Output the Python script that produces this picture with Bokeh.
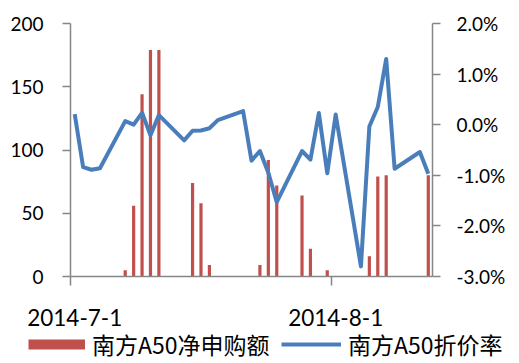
import pandas as pd
from bokeh.plotting import figure
from bokeh.layouts import column
from bokeh.models import (Range1d, LinearAxis, FixedTicker, PrintfTickFormatter,
                          Legend, LegendItem, ColumnDataSource)
from bokeh.embed import file_html
from bokeh.resources import INLINE

# ---- data ----
dates = ["2014-07-01", "2014-07-02", "2014-07-03", "2014-07-04",
         "2014-07-07", "2014-07-08", "2014-07-09", "2014-07-10", "2014-07-11",
         "2014-07-14", "2014-07-15", "2014-07-16", "2014-07-17", "2014-07-18",
         "2014-07-21", "2014-07-22", "2014-07-23", "2014-07-24", "2014-07-25",
         "2014-07-28", "2014-07-29", "2014-07-30", "2014-07-31", "2014-08-01",
         "2014-08-04", "2014-08-05", "2014-08-06", "2014-08-07", "2014-08-08",
         "2014-08-11", "2014-08-12"]
net_subscription = [0, 0, 0, 0,
                    5, 56, 144, 179, 179,
                    0, 74, 58, 9, 0,
                    0, 0, 9, 92, 72,
                    64, 22, 0, 5, 0,
                    0, 16, 79, 80, 0,
                    0, 80]
discount_pct = [0.21, -0.84, -0.89, -0.86,
                0.07, 0.0, 0.235, -0.21, 0.19,
                -0.31, -0.12, -0.115, -0.07, 0.09,
                0.27, -0.71, -0.52, -0.95, -1.53,
                -0.52, -0.69, 0.23, -0.96, 0.20,
                -2.80, -0.035, 0.35, 1.30, -0.87,
                -0.54, -0.97]
x_tick_labels = ["2014-7-1", "2014-8-1"]
left_ticks = [0, 50, 100, 150, 200]
right_ticks = [-3, -2, -1, 0, 1, 2]
series_names = ["南方A50净申购额", "南方A50折价率"]

# ---- layout / style ----
RED = "#C0504D"
BLUE = "#4A7EBB"
AXIS = "#868686"

start = pd.Timestamp("2014-07-01")
day = [int(v) for v in (pd.to_datetime(dates) - start).days]
tick_days = [int(v) for v in (pd.to_datetime(x_tick_labels) - start).days]
last_day = day[-1]

src = ColumnDataSource(dict(day=day, sub=net_subscription, disc=discount_pct))

MAIN_H = 335
p = figure(width=519, height=MAIN_H, output_backend="svg", toolbar_location=None,
           x_range=Range1d(-0.5, last_day + 0.5), y_range=Range1d(0, 200),
           min_border_left=70, min_border_right=87, min_border_top=23,
           min_border_bottom=MAIN_H - 276, outline_line_color=None)
p.frame_align = False
p.extra_y_ranges = {"pct": Range1d(-3, 2)}
p.xgrid.visible = False
p.ygrid.visible = False

bars = p.vbar(x="day", top="sub", width=0.38, bottom=0, source=src,
              fill_color=RED, line_color=None)
line = p.line(x="day", y="disc", source=src, y_range_name="pct",
              line_color=BLUE, line_width=4, line_join="round")

# x axis
xa = p.xaxis[0]
xa.ticker = FixedTicker(ticks=tick_days, minor_ticks=[t - 0.5 for t in tick_days])
xa.major_label_overrides = {t: lab for t, lab in zip(tick_days, x_tick_labels)}
xa.major_tick_out = 0
xa.major_tick_in = 0
xa.minor_tick_out = 9
xa.minor_tick_in = 0
xa.minor_tick_line_color = AXIS
xa.minor_tick_line_width = 1.5
xa.axis_line_color = AXIS
xa.axis_line_width = 1.5
xa.major_label_standoff = 23
xa.major_label_text_font = "Lato"
xa.major_label_text_font_size = "22.5px"
xa.major_label_text_color = "#000000"

# left axis
ya = p.yaxis[0]
ya.ticker = FixedTicker(ticks=left_ticks, minor_ticks=[])
ya.major_tick_out = 8
ya.major_tick_in = 0
ya.major_tick_line_color = AXIS
ya.major_tick_line_width = 1.5
ya.axis_line_color = AXIS
ya.axis_line_width = 1.5
ya.major_label_standoff = 19
ya.major_label_text_font = "Lato"
ya.major_label_text_font_size = "19px"
ya.major_label_text_color = "#000000"

# right axis
ra = LinearAxis(y_range_name="pct", ticker=FixedTicker(ticks=right_ticks, minor_ticks=[]),
                formatter=PrintfTickFormatter(format="%.1f%%"))
ra.major_tick_out = 8
ra.major_tick_in = 0
ra.major_tick_line_color = AXIS
ra.major_tick_line_width = 1.5
ra.axis_line_color = AXIS
ra.axis_line_width = 1.5
ra.major_label_standoff = 16
ra.major_label_text_font = "Lato"
ra.major_label_text_font_size = "19px"
ra.major_label_text_color = "#000000"
p.add_layout(ra, "right")

# ---- legend strip (separate transparent figure, slightly overlapping) ----
OVERLAP = 8
LEG_H = 363 - MAIN_H + OVERLAP
lf = figure(width=519, height=LEG_H, output_backend="svg", toolbar_location=None,
            x_axis_location=None, y_axis_location=None, outline_line_color=None,
            min_border=0, min_border_left=0, min_border_right=0,
            min_border_top=0, min_border_bottom=0,
            x_range=Range1d(0, 1), y_range=Range1d(0, 1),
            background_fill_alpha=0, border_fill_alpha=0)
lf.margin = (-OVERLAP, 0, 0, 0)
lf.frame_align = False
lf.xgrid.visible = False
lf.ygrid.visible = False
# key renderers: their off-range points draw nothing in the strip itself
key_bar = lf.line(x=[5, 6], y=[5, 6], line_color=RED, line_width=10)
key_line = lf.line(x=[5, 6], y=[5, 6], line_color=BLUE, line_width=4)

def make_legend(item, loc, gw):
    return Legend(items=[item], location=loc, glyph_width=gw, glyph_height=34,
                  label_height=34, label_standoff=7, padding=0, margin=0,
                  border_line_color=None, background_fill_alpha=0,
                  label_text_font="Noto Sans CJK SC", label_text_font_size="23px",
                  label_text_color="#000000")

lf.add_layout(make_legend(LegendItem(label=series_names[0], renderers=[key_bar]), (28, 2), 57))
lf.add_layout(make_legend(LegendItem(label=series_names[1], renderers=[key_line]), (281, 2), 60))

layout = column(p, lf, spacing=0)
open("out.html", "w").write(file_html(layout, INLINE))
